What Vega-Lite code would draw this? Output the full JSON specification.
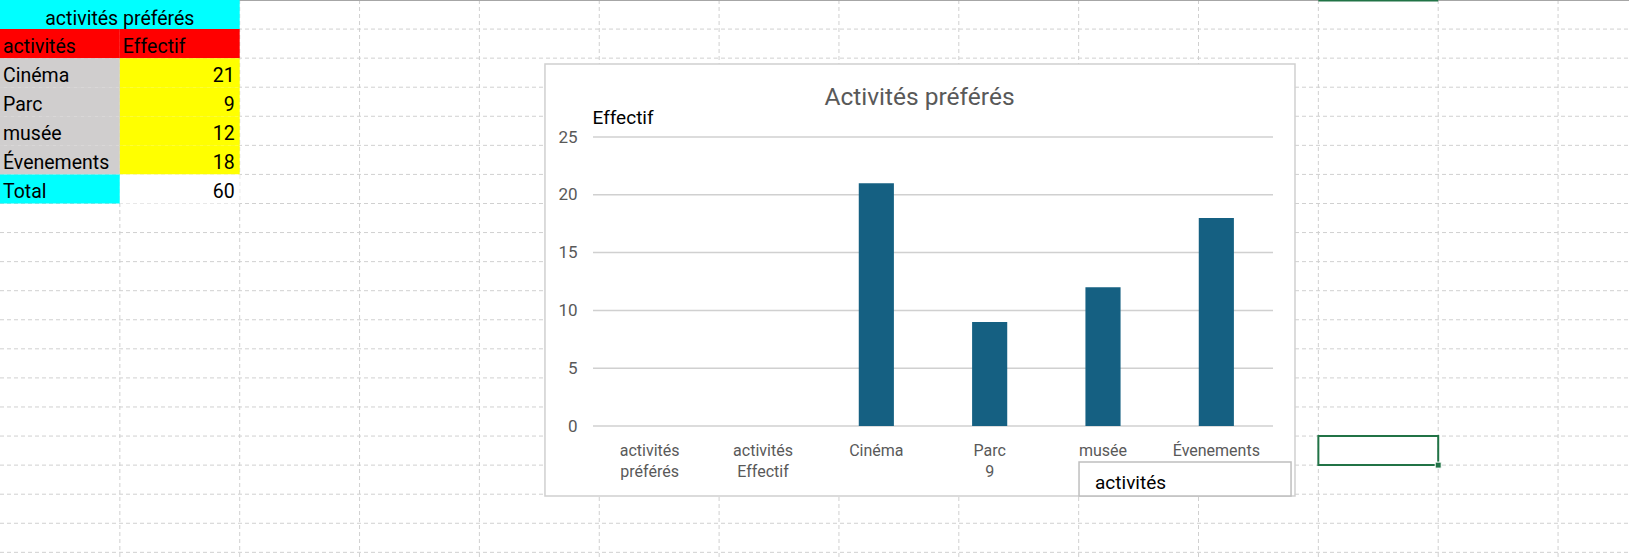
{
  "$schema": "https://vega.github.io/schema/vega-lite/v6.json",
  "autosize": {"type": "none"},
  "width": 680,
  "height": 289,
  "padding": {"left": 593, "top": 137, "right": 356, "bottom": 134},
  "background": "#ffffff",
  "config": {"view": {"stroke": null}, "font": "Roboto"},
  "datasets": {
    "tableau": [
      {"c0": 0, "c1": 2, "r0": 0, "r1": 1, "texte": "activités préférés", "role": "titre"},
      {"c0": 0, "c1": 1, "r0": 1, "r1": 2, "texte": "activités", "role": "entete"},
      {"c0": 1, "c1": 2, "r0": 1, "r1": 2, "texte": "Effectif", "role": "entete"},
      {"c0": 0, "c1": 1, "r0": 2, "r1": 3, "texte": "Cinéma", "role": "categorie"},
      {"c0": 1, "c1": 2, "r0": 2, "r1": 3, "texte": "21", "role": "effectif"},
      {"c0": 0, "c1": 1, "r0": 3, "r1": 4, "texte": "Parc", "role": "categorie"},
      {"c0": 1, "c1": 2, "r0": 3, "r1": 4, "texte": "9", "role": "effectif"},
      {"c0": 0, "c1": 1, "r0": 4, "r1": 5, "texte": "musée", "role": "categorie"},
      {"c0": 1, "c1": 2, "r0": 4, "r1": 5, "texte": "12", "role": "effectif"},
      {"c0": 0, "c1": 1, "r0": 5, "r1": 6, "texte": "Évenements", "role": "categorie"},
      {"c0": 1, "c1": 2, "r0": 5, "r1": 6, "texte": "18", "role": "effectif"},
      {"c0": 0, "c1": 1, "r0": 6, "r1": 7, "texte": "Total", "role": "total"},
      {"c0": 1, "c1": 2, "r0": 6, "r1": 7, "texte": "60", "role": "somme"}
    ],
    "colonnes": [{"c": 1}, {"c": 2}, {"c": 3}, {"c": 4}, {"c": 5}, {"c": 6}, {"c": 7}, {"c": 8}, {"c": 9}, {"c": 10}, {"c": 11}, {"c": 12}, {"c": 13}],
    "lignes": [{"r": 1}, {"r": 2}, {"r": 3}, {"r": 4}, {"r": 5}, {"r": 6}, {"r": 7}, {"r": 8}, {"r": 9}, {"r": 10}, {"r": 11}, {"r": 12}, {"r": 13}, {"r": 14}, {"r": 15}, {"r": 16}, {"r": 17}, {"r": 18}, {"r": 19}],
    "activites": [
      {"activite": "activités\npréférés", "effectif": null},
      {"activite": "activités\nEffectif", "effectif": null},
      {"activite": "Cinéma", "effectif": 21},
      {"activite": "Parc\n9", "effectif": 9},
      {"activite": "musée", "effectif": 12},
      {"activite": "Évenements", "effectif": 18}
    ],
    "graduations": [{"effectif": 0}, {"effectif": 5}, {"effectif": 10}, {"effectif": 15}, {"effectif": 20}, {"effectif": 25}]
  },
  "layer": [
    {
      "layer": [
        {
          "data": {"name": "colonnes"},
          "mark": {"type": "rule", "color": "#d0d0d0", "strokeWidth": 1, "strokeDash": [4, 3], "clip": false},
          "encoding": {
            "x": {"field": "c", "type": "quantitative", "scale": {"domain": [0, 13.5919], "range": [-593, 1036], "zero": false, "nice": false}, "axis": null},
            "y": {"datum": 0, "type": "quantitative", "scale": {"domain": [0, 19.2638], "range": [-137, 423], "zero": false, "nice": false}, "axis": null},
            "y2": {"datum": 19.3}
          }
        },
        {
          "data": {"name": "lignes"},
          "mark": {"type": "rule", "color": "#d0d0d0", "strokeWidth": 1, "strokeDash": [4, 3], "clip": false},
          "encoding": {
            "x": {"datum": 0, "type": "quantitative", "scale": {"domain": [0, 13.5919], "range": [-593, 1036], "zero": false, "nice": false}, "axis": null},
            "x2": {"datum": 13.6},
            "y": {"field": "r", "type": "quantitative", "scale": {"domain": [0, 19.2638], "range": [-137, 423], "zero": false, "nice": false}, "axis": null}
          }
        },
        {
          "data": {"values": [{}]},
          "mark": {"type": "rule", "color": "#a6a6a6", "strokeWidth": 2, "clip": false},
          "encoding": {
            "x": {"datum": 0, "type": "quantitative", "scale": {"domain": [0, 13.5919], "range": [-593, 1036], "zero": false, "nice": false}, "axis": null},
            "x2": {"datum": 13.6},
            "y": {"datum": 0, "type": "quantitative", "scale": {"domain": [0, 19.2638], "range": [-137, 423], "zero": false, "nice": false}, "axis": null}
          }
        },
        {
          "data": {"name": "tableau"},
          "mark": {"type": "rect", "clip": false},
          "encoding": {
            "x": {"field": "c0", "type": "quantitative", "scale": {"domain": [0, 13.5919], "range": [-593, 1036], "zero": false, "nice": false}, "axis": null},
            "x2": {"field": "c1"},
            "y": {"field": "r0", "type": "quantitative", "scale": {"domain": [0, 19.2638], "range": [-137, 423], "zero": false, "nice": false}, "axis": null},
            "y2": {"field": "r1"},
            "color": {"field": "role", "type": "nominal", "legend": null, "scale": {"domain": ["titre", "entete", "categorie", "effectif", "total", "somme"], "range": ["#00ffff", "#ff0000", "#d0cece", "#ffff00", "#00ffff", "#ffffff"]}}
          }
        },
        {
          "data": {"name": "tableau"},
          "transform": [{"filter": {"field": "role", "oneOf": ["entete", "categorie", "total"]}}],
          "mark": {"type": "text", "align": "left", "baseline": "alphabetic", "dx": 3, "dy": -5.5, "fontSize": 19.5, "font": "Roboto", "color": "#000000", "clip": false},
          "encoding": {
            "x": {"field": "c0", "type": "quantitative", "scale": {"domain": [0, 13.5919], "range": [-593, 1036], "zero": false, "nice": false}, "axis": null},
            "y": {"field": "r1", "type": "quantitative", "scale": {"domain": [0, 19.2638], "range": [-137, 423], "zero": false, "nice": false}, "axis": null},
            "text": {"field": "texte"}
          }
        },
        {
          "data": {"name": "tableau"},
          "transform": [{"filter": {"field": "role", "oneOf": ["effectif", "somme"]}}],
          "mark": {"type": "text", "align": "right", "baseline": "alphabetic", "dx": -5, "dy": -5.5, "fontSize": 19.5, "font": "Roboto", "color": "#000000", "clip": false},
          "encoding": {
            "x": {"field": "c1", "type": "quantitative", "scale": {"domain": [0, 13.5919], "range": [-593, 1036], "zero": false, "nice": false}, "axis": null},
            "y": {"field": "r1", "type": "quantitative", "scale": {"domain": [0, 19.2638], "range": [-137, 423], "zero": false, "nice": false}, "axis": null},
            "text": {"field": "texte"}
          }
        },
        {
          "data": {"name": "tableau"},
          "transform": [{"filter": {"field": "role", "equal": "titre"}}],
          "mark": {"type": "text", "align": "center", "baseline": "alphabetic", "dx": 119.85, "dy": -4.5, "fontSize": 19.5, "font": "Roboto", "color": "#000000", "clip": false},
          "encoding": {
            "x": {"field": "c0", "type": "quantitative", "scale": {"domain": [0, 13.5919], "range": [-593, 1036], "zero": false, "nice": false}, "axis": null},
            "y": {"field": "r1", "type": "quantitative", "scale": {"domain": [0, 19.2638], "range": [-137, 423], "zero": false, "nice": false}, "axis": null},
            "text": {"field": "texte"}
          }
        },
        {
          "data": {"values": [{}]},
          "mark": {"type": "rect", "fill": "#ffffff", "stroke": "#d0d0d0", "strokeWidth": 1.5, "clip": false},
          "encoding": {
            "x": {"datum": 4.547, "type": "quantitative", "scale": {"domain": [0, 13.5919], "range": [-593, 1036], "zero": false, "nice": false}, "axis": null},
            "x2": {"datum": 10.805},
            "y": {"datum": 2.2016, "type": "quantitative", "scale": {"domain": [0, 19.2638], "range": [-137, 423], "zero": false, "nice": false}, "axis": null},
            "y2": {"datum": 17.062}
          }
        },
        {
          "data": {"values": [{}]},
          "mark": {"type": "text", "align": "center", "baseline": "alphabetic", "fontSize": 24.5, "font": "Roboto", "color": "#595959", "clip": false},
          "encoding": {
            "x": {"datum": 7.672, "type": "quantitative", "scale": {"domain": [0, 13.5919], "range": [-593, 1036], "zero": false, "nice": false}, "axis": null},
            "y": {"datum": 3.612, "type": "quantitative", "scale": {"domain": [0, 19.2638], "range": [-137, 423], "zero": false, "nice": false}, "axis": null},
            "text": {"value": "Activités préférés"}
          }
        },
        {
          "data": {"values": [{}]},
          "mark": {"type": "rect", "fill": "#ffffff", "stroke": "#bfbfbf", "strokeWidth": 1.5, "clip": false},
          "encoding": {
            "x": {"datum": 9.003, "type": "quantitative", "scale": {"domain": [0, 13.5919], "range": [-593, 1036], "zero": false, "nice": false}, "axis": null},
            "x2": {"datum": 10.772},
            "y": {"datum": 15.89, "type": "quantitative", "scale": {"domain": [0, 19.2638], "range": [-137, 423], "zero": false, "nice": false}, "axis": null},
            "y2": {"datum": 17.06}
          }
        },
        {
          "data": {"values": [{}]},
          "mark": {"type": "text", "align": "left", "baseline": "alphabetic", "dx": 16, "fontSize": 19, "font": "Roboto", "color": "#000000", "clip": false},
          "encoding": {
            "x": {"datum": 9.003, "type": "quantitative", "scale": {"domain": [0, 13.5919], "range": [-593, 1036], "zero": false, "nice": false}, "axis": null},
            "y": {"datum": 16.82, "type": "quantitative", "scale": {"domain": [0, 19.2638], "range": [-137, 423], "zero": false, "nice": false}, "axis": null},
            "text": {"value": "activités"}
          }
        },
        {
          "data": {"values": [{}]},
          "mark": {"type": "rect", "filled": false, "stroke": "#217346", "strokeWidth": 2, "clip": false},
          "encoding": {
            "x": {"datum": 11, "type": "quantitative", "scale": {"domain": [0, 13.5919], "range": [-593, 1036], "zero": false, "nice": false}, "axis": null},
            "x2": {"datum": 12},
            "y": {"datum": 15, "type": "quantitative", "scale": {"domain": [0, 19.2638], "range": [-137, 423], "zero": false, "nice": false}, "axis": null},
            "y2": {"datum": 16}
          }
        },
        {
          "data": {"values": [{}]},
          "mark": {"type": "point", "shape": "square", "size": 36, "filled": true, "fill": "#217346", "stroke": "#ffffff", "strokeWidth": 1, "opacity": 1, "clip": false},
          "encoding": {
            "x": {"datum": 12, "type": "quantitative", "scale": {"domain": [0, 13.5919], "range": [-593, 1036], "zero": false, "nice": false}, "axis": null},
            "y": {"datum": 16, "type": "quantitative", "scale": {"domain": [0, 19.2638], "range": [-137, 423], "zero": false, "nice": false}, "axis": null}
          }
        },
        {
          "data": {"values": [{}]},
          "mark": {"type": "rule", "color": "#217346", "strokeWidth": 3, "clip": false},
          "encoding": {
            "x": {"datum": 11, "type": "quantitative", "scale": {"domain": [0, 13.5919], "range": [-593, 1036], "zero": false, "nice": false}, "axis": null},
            "x2": {"datum": 12},
            "y": {"datum": 0, "type": "quantitative", "scale": {"domain": [0, 19.2638], "range": [-137, 423], "zero": false, "nice": false}, "axis": null}
          }
        }
      ]
    },
    {
      "layer": [
        {
          "data": {"name": "graduations"},
          "mark": {"type": "rule", "color": "#d0d0d0", "strokeWidth": 1.5},
          "encoding": {
            "y": {
              "field": "effectif",
              "type": "quantitative",
              "scale": {"domain": [0, 25], "nice": false},
              "axis": {"zindex": 1, "grid": false, "domain": false, "ticks": false, "values": [0, 5, 10, 15, 20, 25], "labelPadding": 16, "labelFontSize": 17, "labelFont": "Roboto", "labelColor": "#595959", "title": "Effectif", "titleAngle": 0, "titleAlign": "left", "titleBaseline": "alphabetic", "titleX": -1, "titleY": -14, "titleFontSize": 19, "titleFontWeight": "normal", "titleFont": "Roboto", "titleColor": "#000000"}
            }
          }
        },
        {
          "data": {"name": "activites"},
          "mark": {"type": "bar", "color": "#156082"},
          "encoding": {
            "x": {
              "field": "activite",
              "type": "nominal",
              "sort": null,
              "scale": {"domain": ["activités\npréférés", "activités\nEffectif", "Cinéma", "Parc\n9", "musée", "Évenements"], "paddingInner": 0.69, "paddingOuter": 0.345},
              "axis": {"zindex": 1, "title": null, "domain": false, "ticks": false, "grid": false, "labelAngle": 0, "labelPadding": 16, "labelBaseline": "top", "labelFontSize": 16, "labelFont": "Roboto", "labelColor": "#595959", "labelLineHeight": 21.5, "labelLimit": 0, "labelExpr": "split(datum.value, '\\n')"}
            },
            "y": {
              "field": "effectif",
              "type": "quantitative",
              "scale": {"domain": [0, 25], "nice": false},
              "axis": {"zindex": 1, "grid": false, "domain": false, "ticks": false, "values": [0, 5, 10, 15, 20, 25], "labelPadding": 16, "labelFontSize": 17, "labelFont": "Roboto", "labelColor": "#595959", "title": "Effectif", "titleAngle": 0, "titleAlign": "left", "titleBaseline": "alphabetic", "titleX": -1, "titleY": -14, "titleFontSize": 19, "titleFontWeight": "normal", "titleFont": "Roboto", "titleColor": "#000000"}
            }
          }
        }
      ]
    }
  ],
  "resolve": {"scale": {"x": "independent", "y": "independent", "color": "independent"}}
}
